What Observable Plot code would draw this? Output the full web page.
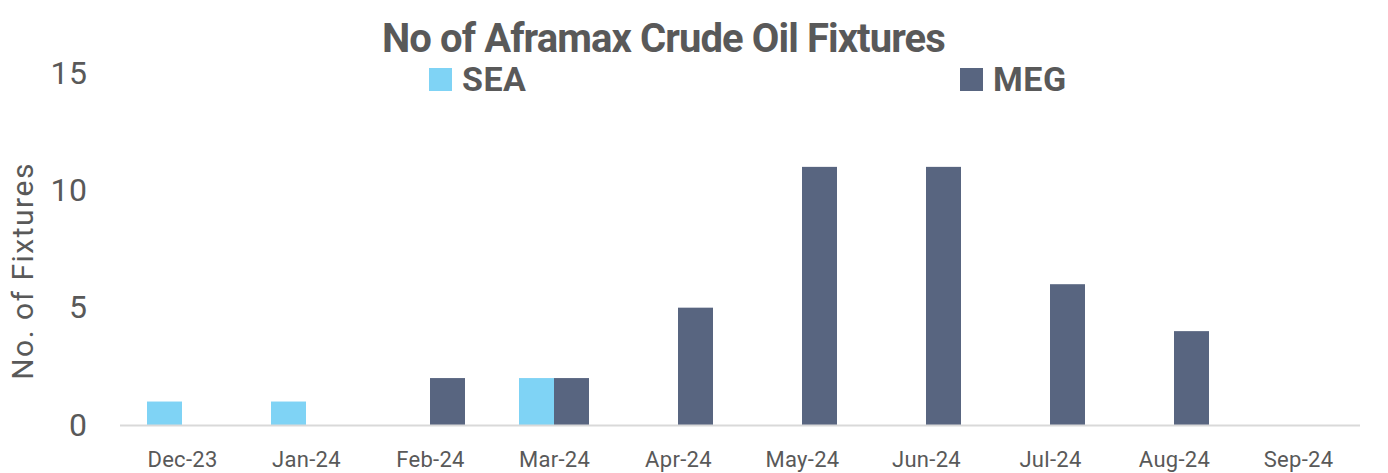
<!DOCTYPE html>
<html>
<head>
<meta charset="utf-8">
<script src="https://cdn.jsdelivr.net/npm/d3@7"></script>
<script src="https://cdn.jsdelivr.net/npm/@observablehq/plot@0.6"></script>
<style>
  html, body { margin: 0; padding: 0; background: #fff; }
  #wrap { position: relative; width: 1388px; height: 473px; font-family: Roboto, sans-serif; }
  #chart, #overlay { position: absolute; left: 0; top: 0; }
</style>
</head>
<body>
<div id="wrap">
  <div id="chart"></div>
  <svg id="overlay" width="1388" height="473"></svg>
</div>
<script>
const months = ["Dec-23","Jan-24","Feb-24","Mar-24","Apr-24","May-24","Jun-24","Jul-24","Aug-24","Sep-24"];
const series = ["SEA","MEG"];
const seaValues = [1, 1, 0, 2, 0, 0, 0, 0, 0, 0];
const megValues = [0, 0, 2, 2, 5, 11, 11, 6, 4, 0];
const colors = ["#7fd3f5", "#586580"];
const yTicks = [0, 5, 10, 15];
const titleText = "No of Aframax Crude Oil Fixtures";
const yLabel = "No. of Fixtures";
const textColor = "#595959";

const data = [];
months.forEach((m, i) => {
  data.push({month: m, series: "SEA", value: seaValues[i]});
  data.push({month: m, series: "MEG", value: megValues[i]});
});

const chart = Plot.plot({
  width: 1388,
  height: 473,
  marginLeft: 120,
  marginRight: 28,
  marginTop: 73,
  marginBottom: 48,
  style: { fontFamily: "Roboto, sans-serif", color: textColor, background: "transparent", overflow: "visible" },
  fx: { domain: months, padding: 0, axis: "bottom", tickSize: 0, tickPadding: 26, label: null },
  x: { domain: series, paddingInner: 0, paddingOuter: 0.771, axis: null },
  y: { domain: [0, 15], ticks: yTicks, tickSize: 0, tickPadding: 33, label: null },
  color: { domain: series, range: colors },
  marks: [
    Plot.barY(data, { fx: "month", x: "series", y: "value", fill: "series" }),
    Plot.ruleY([0], { stroke: "#d9d9d9", strokeWidth: 2 })
  ]
});
document.getElementById("chart").appendChild(chart);

// axis text styling
const yAx = chart.querySelector("[aria-label='y-axis tick label']");
if (yAx) { yAx.setAttribute("font-size", "32"); yAx.setAttribute("letter-spacing", "0.5"); yAx.setAttribute("fill", textColor); }
const fxAx = chart.querySelector("[aria-label='fx-axis tick label']");
if (fxAx) { fxAx.setAttribute("font-size", "22"); fxAx.setAttribute("letter-spacing", "0.3"); fxAx.setAttribute("fill", textColor); }

// overlay: title, legend, y label
const ov = d3.select("#overlay").attr("font-family", "Roboto, sans-serif").attr("fill", textColor);
ov.append("text").attr("x", 663.5).attr("y", 51.7).attr("text-anchor", "middle")
  .attr("font-size", 40).attr("font-weight", 700).attr("letter-spacing", -0.9).text(titleText);

const legendX = [429, 960];
series.forEach((s, i) => {
  ov.append("rect").attr("x", legendX[i]).attr("y", 68).attr("width", 23).attr("height", 23).attr("fill", colors[i]);
  ov.append("text").attr("x", legendX[i] + 33).attr("y", 91).attr("font-size", 34).attr("font-weight", 700)
    .attr("letter-spacing", 0.5).text(s);
});

ov.append("text").attr("transform", "translate(33,271) rotate(-90)").attr("text-anchor", "middle")
  .attr("font-size", 30).attr("letter-spacing", 1.5).text(yLabel);
</script>
</body>
</html>
